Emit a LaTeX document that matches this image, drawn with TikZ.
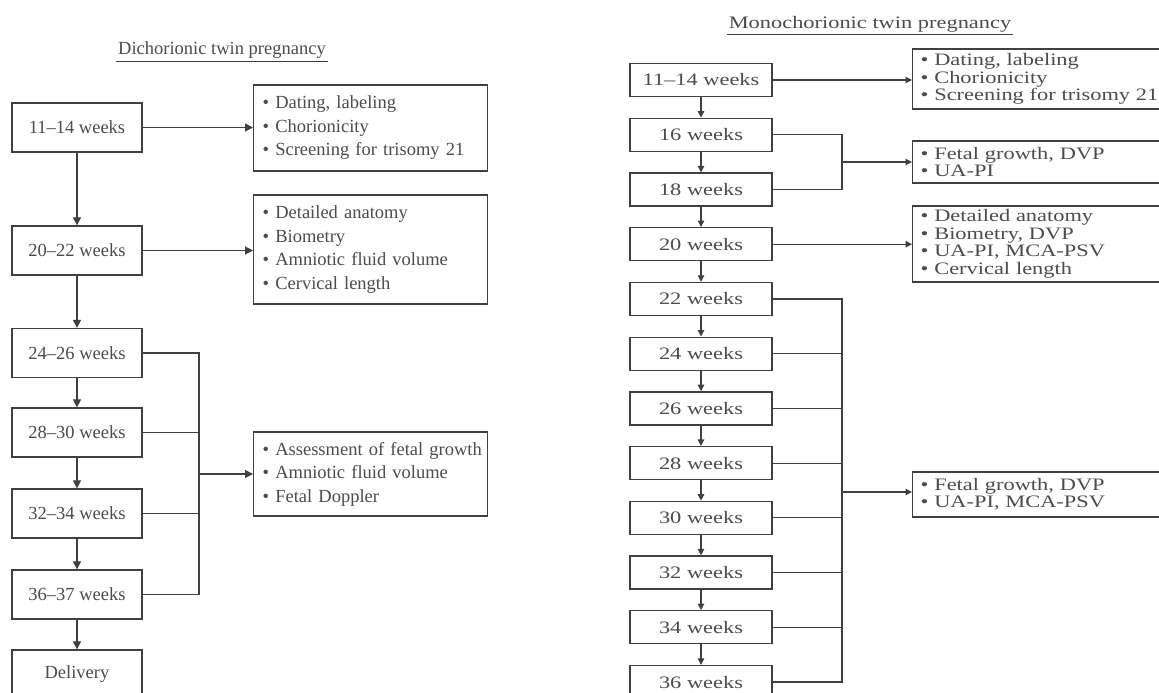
\documentclass[tikz,border=0pt]{standalone}
\usepackage{fontspec}
\setmainfont{Liberation Serif}
\newfontfamily\wideserif[FakeStretch=1.28]{Liberation Serif}
\usetikzlibrary{arrows.meta}
\definecolor{linec}{gray}{0.25}
\definecolor{textc}{gray}{0.3}
\newcommand\dcfont{\fontsize{18.5}{23.5}\selectfont}
\newcommand\mcfont{\wideserif\fontsize{17.5}{17.5}\selectfont}
\begin{document}
\begin{tikzpicture}[x=1pt,y=-1pt,
  every node/.style={text=textc},
  conn/.style={draw=linec, line width=1.2pt},
  arrd/.style={conn, -{Triangle[length=8pt,width=8pt]}},
  arrm/.style={conn, -{Triangle[length=6.5pt,width=6.5pt]}},
  dcweek/.style={draw=linec, line width=1.3pt, minimum width=130pt, minimum height=49pt, inner sep=0pt, font=\dcfont},
  dcinfo/.style={draw=linec, line width=1.3pt, minimum width=234pt, text width=216pt, align=left, inner xsep=9pt, inner ysep=0pt, anchor=west, font=\dcfont},
  mcweek/.style={draw=linec, line width=1.3pt, minimum width=142pt, minimum height=33pt, inner sep=0pt, font=\mcfont},
  mcinfo/.style={draw=linec, line width=1.3pt, minimum width=263pt, text width=247pt, align=left, inner xsep=8pt, inner ysep=0pt, anchor=west, font=\mcfont},
  ttl/.style={inner sep=0pt, anchor=base}
]
\useasboundingbox (0,0) rectangle (1159,693);
\clip (0,0) rectangle (1159,693);
\fill[white] (0,0) rectangle (1159,693);

% ---------- Dichorionic ----------
\node[ttl, font=\dcfont] (dctitle) at (222,55) {Dichorionic twin pregnancy};
\draw[linec, line width=1pt] ([xshift=-2pt,yshift=-7pt]dctitle.base west) -- ([xshift=2pt,yshift=-7pt]dctitle.base east);

\node[dcweek] (d1) at (77,127.5) {11–14 weeks};
\node[dcweek] (d2) at (77,250.5) {20–22 weeks};
\node[dcweek] (d3) at (77,353) {24–26 weeks};
\node[dcweek] (d4) at (77,432.5) {28–30 weeks};
\node[dcweek] (d5) at (77,513.5) {32–34 weeks};
\node[dcweek] (d6) at (77,594.5) {36–37 weeks};
\node[dcweek] (d7) at (77,674.5) {Delivery};

\node[dcinfo, minimum height=86pt] (r1) at (253,128) {• Dating, labeling\\• Chorionicity\\• Screening for trisomy 21};
\node[dcinfo, minimum height=109pt] (r2) at (253,249.5) {• Detailed anatomy\\• Biometry\\• Amniotic fluid volume\\• Cervical length};
\node[dcinfo, minimum height=84pt] (r3) at (253,474) {\mbox{• Assessment of fetal growth}\\• Amniotic fluid volume\\• Fetal Doppler};

\draw[arrd] (d1.south) -- (d2.north);
\draw[arrd] (d2.south) -- (d3.north);
\draw[arrd] (d3.south) -- (d4.north);
\draw[arrd] (d4.south) -- (d5.north);
\draw[arrd] (d5.south) -- (d6.north);
\draw[arrd] (d6.south) -- (d7.north);

\draw[arrd] (d1.east) -- (d1.east -| r1.west);
\draw[arrd] (d2.east) -- (d2.east -| r2.west);

\coordinate (dcj) at (199,474);
\draw[conn] (d3.east) -- (d3.east -| dcj) -- (d6.east -| dcj) -- (d6.east);
\draw[conn] (d4.east) -- (d4.east -| dcj);
\draw[conn] (d5.east) -- (d5.east -| dcj);
\draw[arrd] (dcj) -- (dcj -| r3.west);

% ---------- Monochorionic ----------
\node[ttl, font=\mcfont] (mctitle) at (870,29) {Monochorionic twin pregnancy};
\draw[linec, line width=1pt] ([xshift=-2pt,yshift=-6pt]mctitle.base west) -- ([xshift=2pt,yshift=-6pt]mctitle.base east);

\foreach \lab [count=\i] in {11–14 weeks,16 weeks,18 weeks,20 weeks,22 weeks,24 weeks,26 weeks,28 weeks,30 weeks,32 weeks,34 weeks,36 weeks}
  \node[mcweek] (m\i) at (701,{80+54.73*(\i-1)}) {\lab};

\foreach \i in {1,...,11}{
  \pgfmathtruncatemacro\j{\i+1}
  \draw[arrm] (m\i.south) -- (m\j.north);
}

\node[mcinfo, minimum height=60pt] (ra) at (912,79) {• Dating, labeling\\• Chorionicity\\• Screening for trisomy 21};
\node[mcinfo, minimum height=42pt] (rb) at (912,162) {• Fetal growth, DVP\\• UA-PI};
\node[mcinfo, minimum height=76pt] (rc) at (912,244) {• Detailed anatomy\\• Biometry, DVP\\• UA-PI, MCA-PSV\\• Cervical length};
\node[mcinfo, minimum height=45pt] (rd) at (912,494.5) {• Fetal growth, DVP\\• UA-PI, MCA-PSV};

\draw[arrm] (m1.east) -- (m1.east -| ra.west);
\draw[arrm] (m4.east) -- (m4.east -| rc.west);

\coordinate (mj1) at (842,162);
\draw[conn] (m2.east) -- (m2.east -| mj1) -- (m3.east -| mj1) -- (m3.east);
\draw[arrm] (mj1) -- (mj1 -| rb.west);

\coordinate (mj2) at (842,492);
\draw[conn] (m5.east) -- (m5.east -| mj2) -- (m12.east -| mj2) -- (m12.east);
\foreach \i in {6,...,11}
  \draw[conn] (m\i.east) -- (m\i.east -| mj2);
\draw[arrm] (mj2) -- (mj2 -| rd.west);
\end{tikzpicture}
\end{document}
